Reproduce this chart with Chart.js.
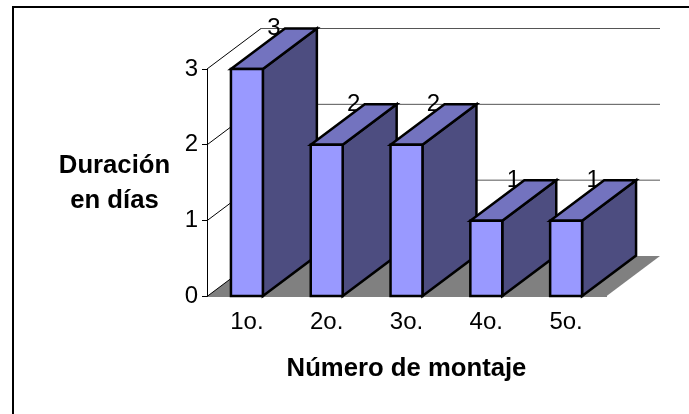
<!DOCTYPE html>
<html>
<head>
<meta charset="utf-8">
<title>Duración de montaje</title>
<script src="https://cdn.jsdelivr.net/npm/chart.js@4/dist/chart.umd.min.js"></script>
<style>
	html, body { margin: 0; padding: 0; background: #fff; }
	canvas { display: block; }
</style>
</head>
<body>
<canvas id="chartMontaje" width="689" height="414"></canvas>
<script>
var categorias = ["1o.", "2o.", "3o.", "4o.", "5o."];
var duracion = [3, 2, 2, 1, 1];
var marcasY = [0, 1, 2, 3];
var tituloY = ["Duración", "en días"];
var tituloX = "Número de montaje";

// Fausse perspective : decalage de la profondeur
var depthX = 54;
var depthY = -40.5;
var barStroke = 2.5;
var fontName = "'Liberation Sans', Arial, sans-serif";

function poly(ctx, pts, fill, stroke, lineWidth) {
	ctx.beginPath();
	ctx.moveTo(pts[0][0], pts[0][1]);
	for (var i = 1; i < pts.length; i++) {
		ctx.lineTo(pts[i][0], pts[i][1]);
	}
	ctx.closePath();
	if (fill) {
		ctx.fillStyle = fill;
		ctx.fill();
	}
	if (stroke) {
		ctx.strokeStyle = stroke;
		ctx.lineWidth = lineWidth;
		ctx.lineJoin = 'miter';
		ctx.stroke();
	}
}

function line(ctx, x1, y1, x2, y2, color, width) {
	ctx.beginPath();
	ctx.moveTo(x1, y1);
	ctx.lineTo(x2, y2);
	ctx.strokeStyle = color;
	ctx.lineWidth = width;
	ctx.stroke();
}

// Cadre, murs, sol et faces laterales des barres
var decor3d = {
	id: 'decor3d',
	beforeDatasetsDraw: function(chart) {
		var ctx = chart.ctx;
		var area = chart.chartArea;
		var y = chart.scales.y;
		ctx.save();

		line(ctx, 13, 414, 13, 7, '#000', 2);
		line(ctx, 12, 7, 689, 7, '#000', 2);

		poly(ctx, [
			[area.left, area.bottom],
			[area.right, area.bottom],
			[area.right + depthX, area.bottom + depthY],
			[area.left + depthX, area.bottom + depthY]
		], '#808080');

		marcasY.forEach(function(v) {
			var py = y.getPixelForValue(v);
			line(ctx, area.left, py, area.left + depthX, py + depthY, '#000', 1);
			if (v > 0) {
				line(ctx, area.left + depthX, py + depthY, area.right + depthX, py + depthY, '#555', 1);
			}
		});

		// etiquettes derriere les barres
		ctx.fillStyle = '#000';
		ctx.font = '24px ' + fontName;
		ctx.textAlign = 'center';
		ctx.textBaseline = 'middle';
		var bars = chart.getDatasetMeta(0).data;
		bars.forEach(function(bar, i) {
			ctx.fillText(String(duracion[i]), bar.x + 27, bar.y + depthY);
		});

		bars.forEach(function(bar) {
			var l = bar.x - bar.width / 2;
			var r = bar.x + bar.width / 2;
			poly(ctx, [
				[r, bar.y],
				[r + depthX, bar.y + depthY],
				[r + depthX, bar.base + depthY],
				[r, bar.base]
			], '#4D4D80', '#000', barStroke);
			poly(ctx, [
				[l, bar.y],
				[l + depthX, bar.y + depthY],
				[r + depthX, bar.y + depthY],
				[r, bar.y]
			], '#7373BF', '#000', barStroke);
		});
		ctx.restore();
	},
	afterDatasetsDraw: function(chart) {
		// contour des faces avant, centre sur le bord de la barre
		var ctx = chart.ctx;
		ctx.save();
		chart.getDatasetMeta(0).data.forEach(function(bar) {
			var l = bar.x - bar.width / 2;
			var r = bar.x + bar.width / 2;
			poly(ctx, [[l, bar.y], [r, bar.y], [r, bar.base], [l, bar.base]], null, '#000', barStroke);
		});
		ctx.restore();
	},
	afterDraw: function(chart) {
		var ctx = chart.ctx;
		ctx.save();
		ctx.fillStyle = '#000';
		ctx.font = 'bold 25.7px ' + fontName;
		ctx.textAlign = 'center';
		ctx.textBaseline = 'alphabetic';
		ctx.fillText(tituloY[0], 114.5, 173);
		ctx.fillText(tituloY[1], 114.5, 208);
		ctx.restore();
	}
};

var ctxMontaje = document.getElementById("chartMontaje");
var chartMontaje = new Chart(ctxMontaje, {
	type: 'bar',
	data: {
		labels: categorias,
		datasets: [{
			data: duracion,
			backgroundColor: '#9999FF',
			borderWidth: 0,
			barPercentage: 0.4,
			categoryPercentage: 1,
			clip: false
		}]
	},
	options: {
		responsive: false,
		animation: false,
		layout: { padding: { top: 69, right: 83, left: 0, bottom: 0 } },
		plugins: {
			legend: { display: false },
			tooltip: { enabled: false }
		},
		scales: {
			x: {
				afterFit: function(scale) { scale.height = 117.5; },
				grid: { display: false },
				border: { color: '#808080', width: 1 },
				ticks: {
					font: { family: fontName, size: 24 },
					color: '#000',
					padding: 3,
					maxRotation: 0
				},
				title: {
					display: true,
					text: tituloX,
					color: '#000',
					font: { family: fontName, size: 25.7, weight: 'bold' },
					padding: { top: 0, bottom: 30 }
				}
			},
			y: {
				min: 0,
				max: 3,
				afterFit: function(scale) { scale.width = 207; },
				grid: { drawOnChartArea: false, color: '#000', tickLength: 5 },
				border: { color: '#000', width: 1 },
				ticks: {
					stepSize: 1,
					font: { family: fontName, size: 24 },
					color: '#000',
					padding: 4
				}
			}
		}
	},
	plugins: [decor3d]
});
</script>
</body>
</html>
